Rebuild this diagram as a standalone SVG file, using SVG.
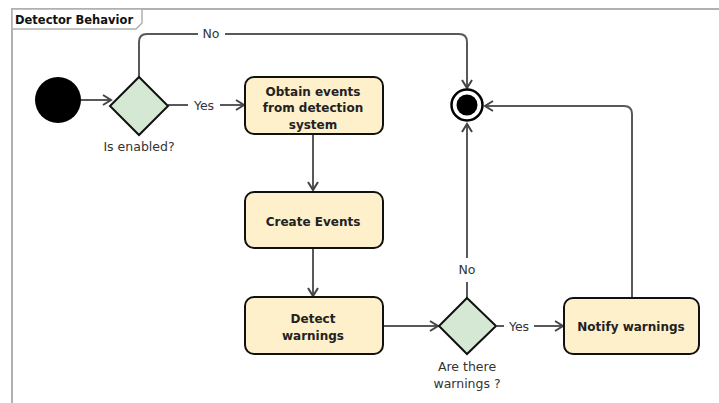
<svg xmlns="http://www.w3.org/2000/svg" width="719" height="403" viewBox="0 0 719 403">
<style>
.frame{fill:none;stroke:#b0b0b0;stroke-width:2}
.tab{fill:#fff;stroke:#b0b0b0;stroke-width:1.5}
.title{font-family:"DejaVu Sans",sans-serif;font-weight:bold;font-size:11.5px;fill:#111}
.box{fill:#fdf0cb;stroke:#111;stroke-width:2}
.dec{fill:#d5e8d4;stroke:#111;stroke-width:2}
.nt{font-family:"DejaVu Sans",sans-serif;font-weight:bold;font-size:12px;fill:#222;text-anchor:middle}
.lbl{font-family:"DejaVu Sans",sans-serif;font-size:12.5px;fill:#333;text-anchor:middle}
.edge{fill:none;stroke:#595959;stroke-width:2;marker-end:url(#arr)}
.bg{fill:#fff}
</style>
<defs>
<marker id="arr" markerUnits="userSpaceOnUse" markerWidth="14" markerHeight="14" refX="10" refY="6" orient="auto">
<path d="M2,1 L10,6 L2,11" fill="none" stroke="#444" stroke-width="2"/>
</marker>
</defs>
<rect width="719" height="403" fill="#fff"/>
<g id="frame">
<path class="frame" d="M12,403 L12,9 L719,9"/>
<path class="tab" d="M12,9 L142,9 L142,23 L136,29 L12,29 Z"/>
<text class="title" x="15" y="24">Detector Behavior</text>
</g>
<g id="connectors">
<path class="edge" d="M81,100 L111,100"/>
<path class="edge" d="M168,105 L244,105"/>
<rect class="bg" x="188" y="97" width="32" height="16"/>
<text class="lbl" x="204" y="110">Yes</text>
<path class="edge" d="M139,77 L139,42 Q139,34 147,34 L459,34 Q467,34 467,42 L467,88"/>
<rect class="bg" x="198" y="26" width="27" height="16"/>
<text class="lbl" x="211" y="38">No</text>
<path class="edge" d="M313,134 L313,190"/>
<path class="edge" d="M313,248 L313,296"/>
<path class="edge" d="M383,326 L438,326"/>
<path class="edge" d="M497,326 L563,326"/>
<rect class="bg" x="504" y="318" width="30" height="16"/>
<text class="lbl" x="519" y="331">Yes</text>
<path class="edge" d="M467,298 L467,124"/>
<rect class="bg" x="454" y="258" width="27" height="24"/>
<text class="lbl" x="467" y="274">No</text>
<path class="edge" d="M632,298 L632,114 Q632,106 624,106 L485,106"/>
</g>
<g id="start">
<circle cx="58" cy="100" r="23" fill="#000"/>
</g>
<g id="isEnabled">
<path class="dec" d="M139,77 L168,106 L139,135 L110,106 Z"/>
<text class="lbl" x="139" y="151">Is enabled?</text>
</g>
<g id="obtainEvents">
<rect class="box" x="245" y="77" width="138" height="57" rx="9"/>
<text class="nt" x="313" y="96">Obtain events</text>
<text class="nt" x="313" y="112">from detection</text>
<text class="nt" x="313" y="129">system</text>
</g>
<g id="createEvents">
<rect class="box" x="245" y="192" width="138" height="56" rx="9"/>
<text class="nt" x="313" y="226">Create Events</text>
</g>
<g id="detectWarnings">
<rect class="box" x="245" y="297" width="138" height="57" rx="9"/>
<text class="nt" x="313" y="323">Detect</text>
<text class="nt" x="313" y="340">warnings</text>
</g>
<g id="areThereWarnings">
<path class="dec" d="M467,298 L496,326 L467,354 L439,326 Z"/>
<text class="lbl" x="467" y="371">Are there</text>
<text class="lbl" x="467" y="388">warnings ?</text>
</g>
<g id="notifyWarnings">
<rect class="box" x="564" y="298" width="135" height="56" rx="9"/>
<text class="nt" x="631" y="331">Notify warnings</text>
</g>
<g id="final">
<circle cx="467" cy="105" r="15.5" fill="#fff" stroke="#000" stroke-width="2.5"/>
<circle cx="467" cy="105" r="10.5" fill="#000"/>
</g>
</svg>
